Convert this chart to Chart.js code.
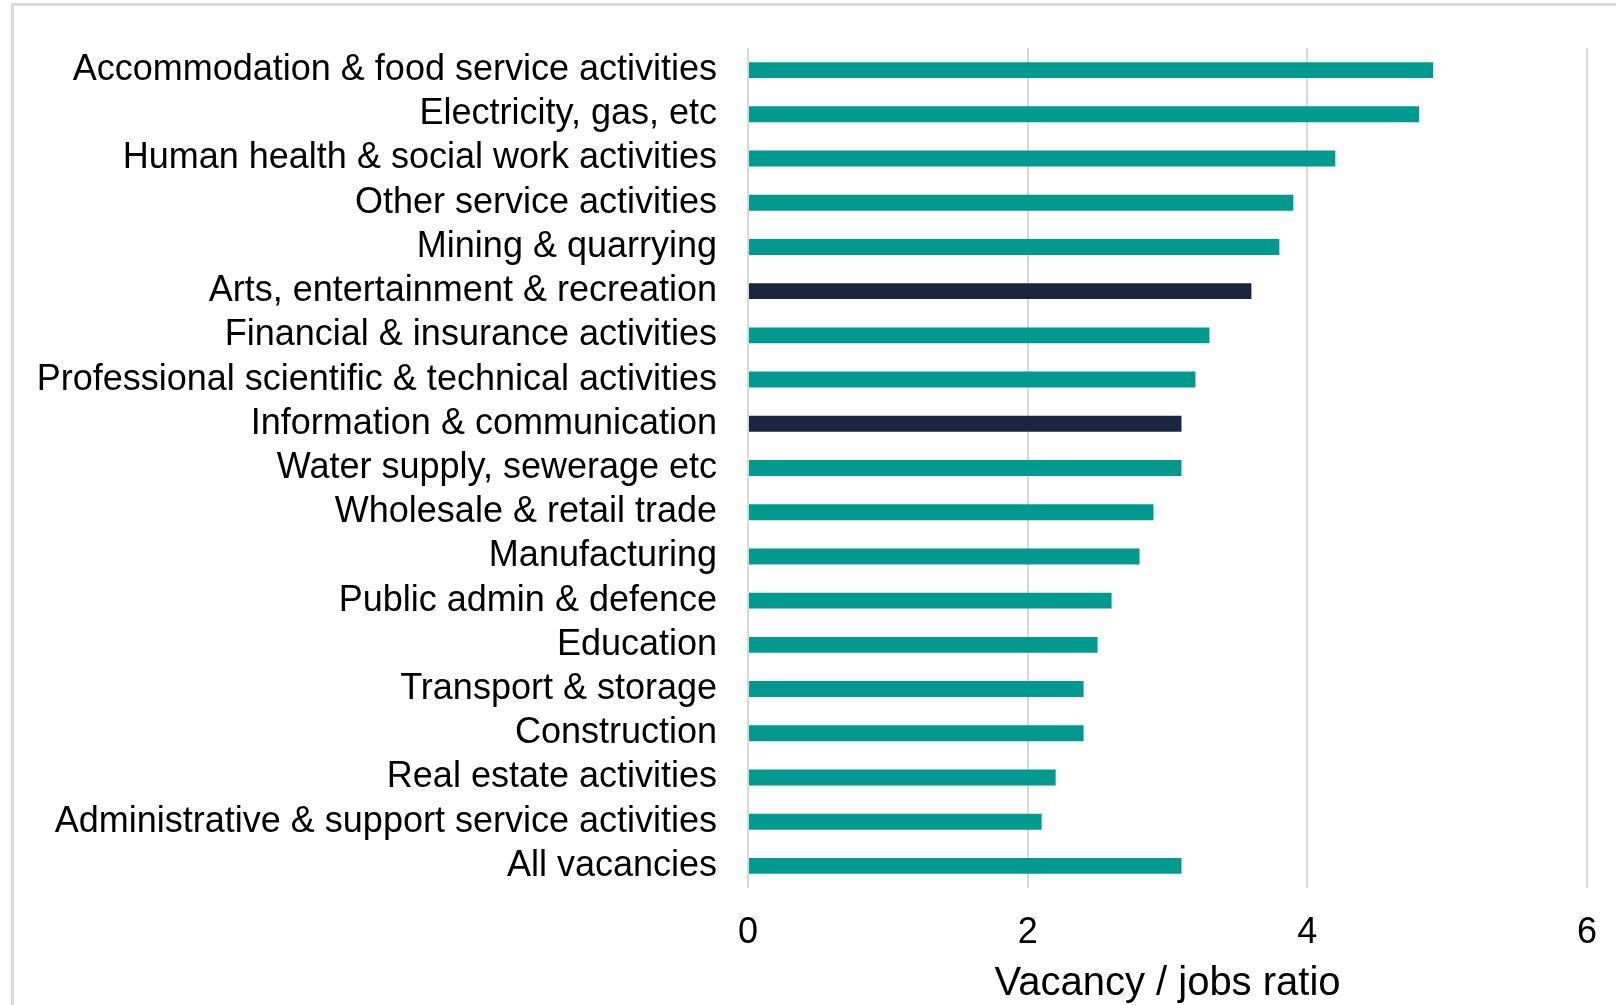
<!DOCTYPE html>
<html>
<head>
<meta charset="utf-8">
<script src="https://cdn.jsdelivr.net/npm/chart.js@4"></script>
<style>
    html, body { margin: 0; padding: 0; background: #fff; overflow: hidden; }
    #wrap { position: relative; width: 1616px; height: 1005px; }
    #frame { position: absolute; left: 11px; top: 3px; width: 2000px; height: 2000px; border: 3px solid #d9d9d9; }
    canvas { position: absolute; left: 0; top: 0; }
</style>
</head>
<body>
<div id="wrap">
    <div id="frame"></div>
    <canvas id="vacancyChart" width="1616" height="1005"></canvas>
</div>
<script>
const sectors = [
    'Accommodation & food service activities',
    'Electricity, gas, etc',
    'Human health & social work activities',
    'Other service activities',
    'Mining & quarrying',
    'Arts, entertainment & recreation',
    'Financial & insurance activities',
    'Professional scientific & technical activities',
    'Information & communication',
    'Water supply, sewerage etc',
    'Wholesale & retail trade',
    'Manufacturing',
    'Public admin & defence',
    'Education',
    'Transport & storage',
    'Construction',
    'Real estate activities',
    'Administrative & support service activities',
    'All vacancies'
];
const ratios = [4.9, 4.8, 4.2, 3.9, 3.8, 3.6, 3.3, 3.2, 3.1, 3.1, 2.9, 2.8, 2.6, 2.5, 2.4, 2.4, 2.2, 2.1, 3.1];
const highlighted = ['Arts, entertainment & recreation', 'Information & communication'];
const xTicks = [0, 2, 4, 6];

const TEAL = '#009a90';
const NAVY = '#1a2540';
const FONT = "'Liberation Sans', Arial, sans-serif";

function drawChart() {
    const ctx = document.getElementById('vacancyChart').getContext('2d');
    const colors = sectors.map(s => highlighted.includes(s) ? NAVY : TEAL);

    new Chart(ctx, {
        type: 'bar',
        data: {
            labels: sectors,
            datasets: [{
                data: ratios,
                backgroundColor: colors,
                borderWidth: 0,
                barPercentage: 0.36,
                categoryPercentage: 1
            }]
        },
        options: {
            indexAxis: 'y',
            responsive: false,
            animation: false,
            layout: {
                padding: { left: 20, top: 48, right: 29, bottom: 0 }
            },
            plugins: {
                legend: { display: false },
                tooltip: { enabled: false }
            },
            scales: {
                x: {
                    min: 0,
                    max: 6,
                    afterBuildTicks: scale => {
                        scale.ticks = xTicks.map(v => ({ value: v }));
                    },
                    afterFit: scale => {
                        scale.height = 117;
                        scale.paddingLeft = 0;
                        scale.paddingRight = 0;
                    },
                    grid: { color: '#d9d9d9', lineWidth: 2, drawTicks: false },
                    border: { display: false },
                    ticks: {
                        color: '#000',
                        padding: 27,
                        font: { family: FONT, size: 36, lineHeight: 1 }
                    },
                    title: {
                        display: true,
                        text: 'Vacancy / jobs ratio',
                        color: '#000',
                        padding: { top: 0, bottom: 1 },
                        font: { family: FONT, size: 40, lineHeight: 1 }
                    }
                },
                y: {
                    afterFit: scale => {
                        scale.width = 728;
                        scale.paddingTop = 0;
                        scale.paddingBottom = 0;
                    },
                    grid: { display: false, drawTicks: false },
                    border: { display: false },
                    ticks: {
                        color: '#000',
                        padding: 31,
                        autoSkip: false,
                        font: { family: FONT, size: 36 }
                    }
                }
            }
        }
    });
}

drawChart();
</script>
</body>
</html>
